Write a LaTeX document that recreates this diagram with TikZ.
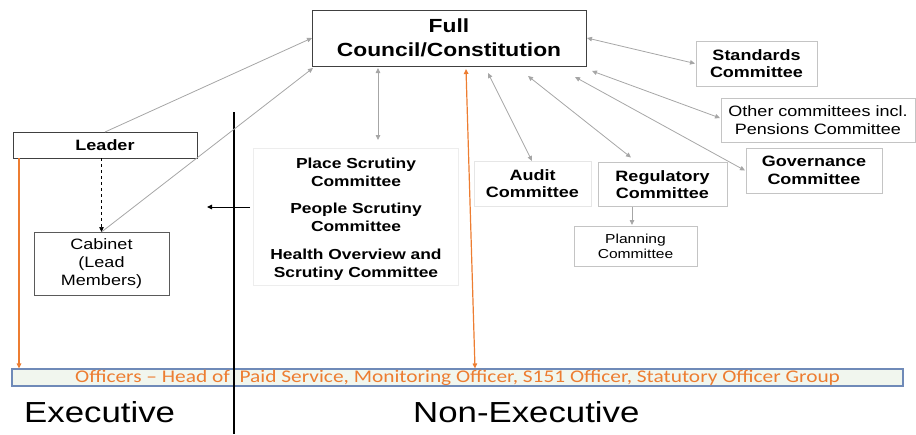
\documentclass[tikz,border=0pt]{standalone}
\usepackage{fontspec}
\setmainfont[FakeStretch=1.2]{Liberation Sans}
\newfontfamily\calib[FakeStretch=1.2]{Carlito}
\usetikzlibrary{arrows.meta}
\definecolor{garr}{HTML}{A6A6A6}
\definecolor{orng}{HTML}{ED7D31}
\definecolor{dkbox}{HTML}{404040}
\definecolor{mdbox}{HTML}{5A5A5A}
\definecolor{ltbox}{HTML}{C4C4C4}
\definecolor{vltbox}{HTML}{E6E6E6}
\definecolor{barfill}{HTML}{F1F6EE}
\definecolor{barline}{HTML}{6F8AB8}
\begin{document}
\begin{tikzpicture}[x=1pt,y=-1pt,
  box/.style={draw, inner sep=0pt, outer sep=0pt, align=center, text=black},
  darkbox/.style={box, draw=dkbox, line width=0.9pt},
  lightbox/.style={box, draw=ltbox, line width=0.9pt},
  boldtxt/.style={font=\bfseries\fontsize{15}{17.5}\selectfont},
  regtxt/.style={font=\fontsize{15}{17.5}\selectfont},
  tip/.tip={Triangle[length=5pt,width=4.5pt]},
  garrow/.style={draw=garr, line width=0.8pt, -tip},
  gdbl/.style={draw=garr, line width=0.8pt, tip-tip},
  oarrow/.style={draw=orng, line width=1.2pt, -tip},
  odbl/.style={draw=orng, line width=1.2pt, tip-tip},
  karrow/.style={draw=black, line width=1pt, -{Triangle[length=5pt,width=4.5pt]}},
  bigtxt/.style={font=\fontsize{29}{34}\selectfont, inner sep=0pt, anchor=base west}
]
\useasboundingbox (0,0) rectangle (916,434);

% officers bar
\node[draw=barline, fill=barfill, line width=1.1pt, minimum width=891pt, minimum height=17pt, inner sep=0pt] (bar) at (457.5,377.5) {};
\node[inner sep=0pt, text height=11pt, text depth=3pt, font=\calib\fontsize{17.8}{19}\selectfont, text=orng] (bartext) at (457.5,378.5)
  {Officers – Head of~ Paid Service, Monitoring Officer, S151 Officer, Statutory Officer Group};

% boxes
\node[darkbox, minimum width=274pt, minimum height=56pt, font=\bfseries\fontsize{19}{24}\selectfont] (full) at (449,38) {Full\\Council/Constitution};
\node[darkbox, minimum width=184pt, minimum height=26pt, boldtxt] (leader) at (105,145) {Leader};
\node[box, draw=mdbox, line width=0.9pt, minimum width=135pt, minimum height=63pt, font=\fontsize{15}{18}\selectfont] (cabinet) at (101.5,263.5) {Cabinet\\(Lead\\Members)};
\node[box, draw=vltbox!70, line width=0.9pt, minimum width=205pt, minimum height=137pt] (scrut) at (355.5,216.5) {};
\node[align=center, inner sep=0pt, font=\bfseries\fontsize{14.5}{18}\selectfont] (sc1) at (356,172.5) {Place Scrutiny\\Committee};
\node[align=center, inner sep=0pt, font=\bfseries\fontsize{14.5}{18}\selectfont] (sc2) at (356,217.5) {People Scrutiny\\Committee};
\node[align=center, inner sep=0pt, font=\bfseries\fontsize{14.5}{18}\selectfont] (sc3) at (356,265) {Health Overview and\\Scrutiny Committee};
\node[box, draw=vltbox, line width=0.9pt, minimum width=117pt, minimum height=45pt, boldtxt] (audit) at (532.5,183.5) {Audit\\Committee};
\node[lightbox, minimum width=129pt, minimum height=44pt, boldtxt] (reg) at (662.5,184.5) {Regulatory\\Committee};
\node[lightbox, minimum width=123pt, minimum height=40pt, font=\fontsize{13}{15}\selectfont] (plan) at (635.5,246) {Planning\\Committee};
\node[lightbox, minimum width=121pt, minimum height=45pt, boldtxt] (stand) at (756.5,63.5) {Standards\\Committee};
\node[lightbox, minimum width=194pt, minimum height=44pt, regtxt] (other) at (818,120) {Other committees incl.\\Pensions Committee};
\node[lightbox, minimum width=136pt, minimum height=45pt, boldtxt] (gov) at (814,170.5) {Governance\\Committee};

% labels
\node[bigtxt] (exe) at (24,422) {Executive};
\node[bigtxt] (nonexe) at (413,422) {Non-Executive};

% divider
\coordinate (divtop) at (234,112);
\coordinate (divbot) at (234,434);
\draw[line width=1.8pt] (divtop) -- (divbot);

% connectors on the left
\draw[garrow] (leader.north) -- (full.west);
\draw[garrow, shorten <=1pt] (cabinet.north) -- ([xshift=1pt,yshift=-2pt]full.south west);
\draw[karrow, dashed, line width=0.7pt] (leader.south -| cabinet.north) -- (cabinet.north);
\draw[oarrow] ([xshift=6pt]leader.south west) -- ([xshift=6pt]leader.south west |- bar.north);
\coordinate (scrutarrowend) at (207,207);
\draw[karrow] ([xshift=-3pt,yshift=9.5pt]scrut.west) -- (scrutarrowend);

% connectors from full council
\draw[gdbl] ([xshift=-71pt,yshift=-2pt]full.south) -- ([xshift=22.5pt,yshift=8pt]scrut.north);
\draw[gdbl] ([xshift=1pt]full.east) -- ([xshift=-1pt]stand.west);
\draw[gdbl] ([xshift=6pt,yshift=-5pt]full.south east) -- ([xshift=-1pt,yshift=2pt]other.west);
\draw[gdbl] ([xshift=-11pt,yshift=-11pt]full.south east) -- ([xshift=-1pt]gov.west);
\draw[gdbl] ([xshift=79pt,yshift=-10pt]full.south) -- ([xshift=-31.5pt,yshift=5pt]reg.north);
\draw[gdbl] ([xshift=39pt,yshift=-7pt]full.south) -- ([xshift=-0.5pt,yshift=0pt]audit.north);
\draw[odbl] ([xshift=17pt,yshift=-3pt]full.south) -- ([xshift=17.5pt]bar.north);
\draw[garrow] ([xshift=-3.5pt]plan.north |- reg.south) -- ([xshift=-3.5pt,yshift=1pt]plan.north);
\end{tikzpicture}
\end{document}
